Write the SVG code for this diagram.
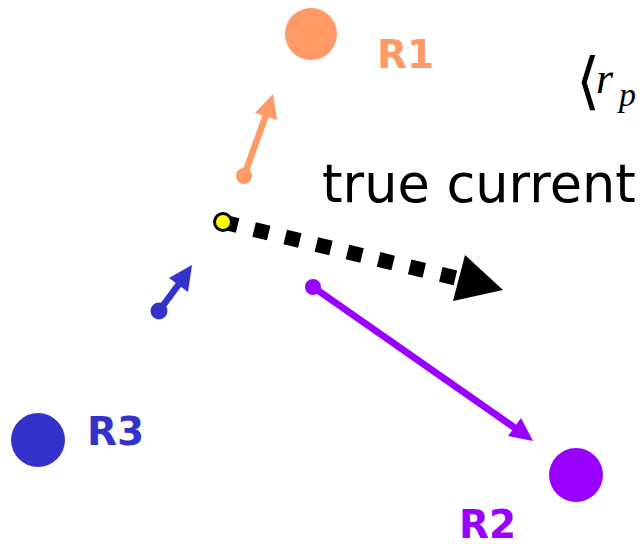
<svg xmlns="http://www.w3.org/2000/svg" width="642" height="544" viewBox="0 0 642 544">
  <style>
    .lbl { font-family: "DejaVu Sans", Verdana, sans-serif; font-weight: bold; font-size: 39px; }
    .big { font-family: "DejaVu Sans", Verdana, sans-serif; font-size: 52.5px; fill: #000; }
    .math { font-family: "Liberation Serif", "DejaVu Serif", serif; font-style: italic; fill: #000; }
  </style>
  <rect width="642" height="544" fill="#fff"/>

  <!-- charges -->
  <g id="R1">
    <circle cx="311" cy="34" r="26" fill="#FF9966"/>
    <text class="lbl" x="377" y="68" fill="#FF9966">R1</text>
  </g>
  <g id="R2">
    <circle cx="576" cy="475" r="27" fill="#9900FF"/>
    <text class="lbl" x="459" y="538" fill="#9900FF">R2</text>
  </g>
  <g id="R3">
    <circle cx="38" cy="440" r="27" fill="#3333CC"/>
    <text class="lbl" x="87" y="445" fill="#3333CC">R3</text>
  </g>

  <!-- field contributions and resulting current -->
  <g id="connectors">
    <g id="arrow-R1" fill="#FF9966" stroke="#FF9966">
      <line x1="244" y1="176" x2="266" y2="115" stroke-width="6.5"/>
      <circle cx="244" cy="176" r="8" stroke="none"/>
      <polygon points="273,94 255,113 277,120" stroke="none"/>
    </g>
    <g id="arrow-R3" fill="#3333CC" stroke="#3333CC">
      <line x1="159" y1="311" x2="179" y2="284" stroke-width="6.5"/>
      <circle cx="159" cy="311" r="8.5" stroke="none"/>
      <polygon points="192,265 169,278 188,292" stroke="none"/>
    </g>
    <g id="arrow-R2" fill="#9900FF" stroke="#9900FF">
      <line x1="313" y1="287" x2="515" y2="428" stroke-width="7"/>
      <circle cx="313" cy="287" r="8" stroke="none"/>
      <polygon points="533,441 508,436 521,418" stroke="none"/>
    </g>
    <g id="arrow-current">
      <line x1="223" y1="222" x2="460" y2="279" stroke="#000" stroke-width="15" stroke-dasharray="15 17"/>
      <polygon points="503,290 465,255 453,301" fill="#000"/>
      <circle cx="223" cy="222" r="8.5" fill="#FFFF00" stroke="#000" stroke-width="3"/>
    </g>
  </g>

  <text class="big" x="322" y="202">true current</text>

  <!-- expectation bracket -->
  <text x="576" y="102" font-size="62" font-family="DejaVu Sans, sans-serif" font-weight="200" fill="#000">⟨</text>
  <text class="math" x="596" y="93" font-size="44">r</text>
  <text class="math" x="619" y="106" font-size="34">p</text>
</svg>
